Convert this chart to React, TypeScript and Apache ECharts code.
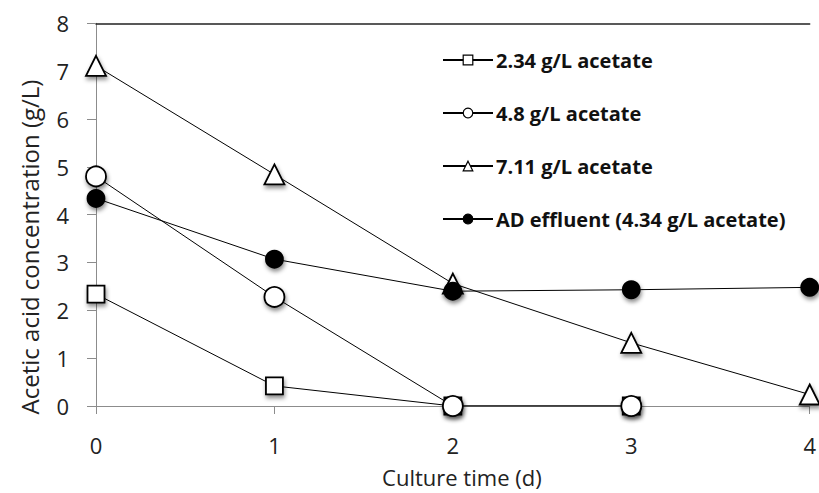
import React, { useEffect, useRef } from "react";
import * as echarts from "echarts";

const days = [0, 1, 2, 3, 4];
const s234 = [2.34, 0.42, 0, 0];
const s48 = [4.8, 2.28, 0, 0];
const s711 = [7.11, 4.84, 2.56, 1.32, 0.24];
const sAD = [4.34, 3.07, 2.4, 2.43, 2.48];
const yTicks = [0, 1, 2, 3, 4, 5, 6, 7, 8];

const names = ["2.34 g/L acetate", "4.8 g/L acetate", "7.11 g/L acetate", "AD effluent (4.34 g/L acetate)"];
const yTitle = "Acetic acid concentration (g/L)";
const xTitle = "Culture time (d)";

export default function App() {
  const ref = useRef<HTMLDivElement>(null);
  useEffect(() => {
    const chart = echarts.init(ref.current!, null, { renderer: "svg" });
    const shadow = { shadowBlur: 4, shadowColor: "rgba(0,0,0,0.45)", shadowOffsetX: 1, shadowOffsetY: 3 };
    const mk = (name: string, vals: number[], symbol: string, size: number, fill: string) => ({
      name,
      type: "line",
      data: vals.map((v, i) => [days[i], v]),
      symbol,
      symbolSize: size,
      showSymbol: true,
      lineStyle: { color: "#000", width: 1 },
      itemStyle: { color: fill, borderColor: "#000", borderWidth: 1.8, ...shadow },
      z: 3,
    });
    chart.setOption({
      animation: false,
      textStyle: { fontFamily: "Open Sans" },
      grid: { left: 96, right: 0, top: 23.3, bottom: 85.7, containLabel: false },
      graphic: [
        {
          type: "text",
          x: 29,
          y: 247,
          rotation: Math.PI / 2,
          style: { text: yTitle, align: "center", verticalAlign: "middle", fontSize: 24, fill: "#222", fontFamily: "Open Sans" },
        },
      ],
      xAxis: [
        {
          type: "value",
          min: 0,
          max: 4,
          interval: 1,
          name: xTitle,
          nameLocation: "middle",
          nameGap: 60,
          nameTextStyle: { fontSize: 22, color: "#222", fontFamily: "Open Sans", padding: [0, 0, 0, 18] },
          axisLine: { lineStyle: { color: "#8c8c8c", width: 1 } },
          axisTick: { show: true, length: 8, lineStyle: { color: "#8c8c8c" } },
          axisLabel: { fontSize: 22, color: "#222", margin: 28, fontFamily: "Open Sans", formatter: (v: number) => String(v) },
          splitLine: { show: false },
        },
        {
          type: "value",
          position: "top",
          min: 0,
          max: 4,
          axisLine: { show: true, lineStyle: { color: "#222", width: 1.5 } },
          axisTick: { show: false },
          axisLabel: { show: false },
          splitLine: { show: false },
        },
      ],
      yAxis: {
        type: "value",
        min: yTicks[0],
        max: yTicks[yTicks.length - 1],
        interval: 1,
        axisLine: { show: true, lineStyle: { color: "#8c8c8c", width: 1 } },
        axisTick: { show: true, length: 9, lineStyle: { color: "#8c8c8c" } },
        axisLabel: { fontSize: 22, color: "#222", margin: 27, fontFamily: "Open Sans" },
        splitLine: { show: false },
      },
      legend: {
        orient: "vertical",
        left: 437,
        top: 44,
        itemGap: 31,
        itemWidth: 50,
        itemHeight: 12,
        textStyle: { fontSize: 20, lineHeight: 22, fontWeight: "bold", color: "#111", fontFamily: "Open Sans", padding: [0, 0, 0, -2] },
        data: names.map((n, i) => ({
          name: n,
          itemStyle: { color: i === 3 ? "#000" : "#fff", borderColor: "#000", borderWidth: 1.2, shadowBlur: 0, shadowOffsetY: 0, shadowOffsetX: 0 },
        })),
      },
      series: [
        mk(names[0], s234, "rect", 17, "#fff"),
        mk(names[1], s48, "circle", 20, "#fff"),
        mk(names[2], s711, "triangle", 20, "#fff"),
        mk(names[3], sAD, "circle", 17, "#000"),
      ],
    });
    return () => chart.dispose();
  }, []);
  return <div ref={ref} style={{ position: "fixed", left: 0, top: 0, width: 819, height: 493, background: "#fff" }} />;
}
